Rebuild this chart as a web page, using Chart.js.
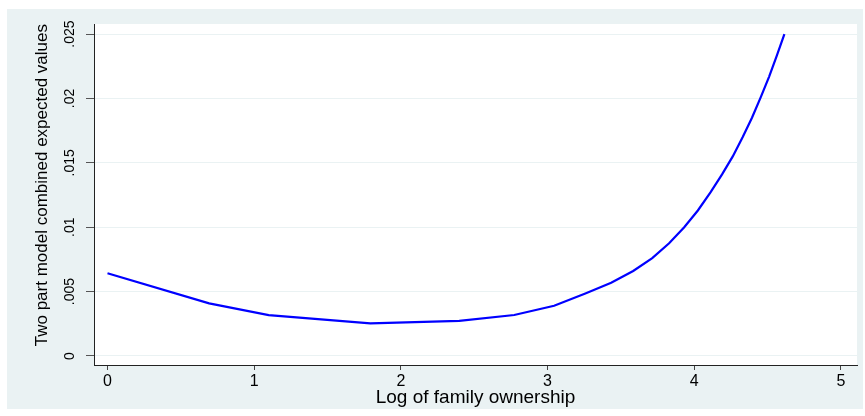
<!DOCTYPE html>
<html>
<head>
<meta charset="utf-8">
<script src="https://cdn.jsdelivr.net/npm/chart.js@4"></script>
<style>
  html, body { margin: 0; padding: 0; background: #ffffff; }
  canvas { display: block; }
</style>
</head>
<body>
<canvas id="chart" width="865" height="416"></canvas>
<script>
// Predicted values of the two-part model over log family ownership
const logOwnership = [0, 0.693, 1.099, 1.792, 2.398, 2.773, 3.045, 3.258, 3.434, 3.584, 3.714, 3.829,
  3.932, 4.025, 4.111, 4.190, 4.263, 4.331, 4.394, 4.454, 4.511, 4.564, 4.615];
const expectedValues = [0.00642, 0.00409, 0.00318, 0.00254, 0.00272, 0.00318, 0.0039, 0.00485, 0.00568,
  0.0066, 0.0076, 0.00875, 0.0100, 0.0113, 0.0127, 0.0141, 0.0155, 0.0170, 0.0185, 0.0201, 0.0217,
  0.02335, 0.0250];

const xTicks = [0, 1, 2, 3, 4, 5];
const xTickLabels = ['0', '1', '2', '3', '4', '5'];
const yTicks = [0, 0.005, 0.01, 0.015, 0.02, 0.025];
const yTickLabels = ['0', '.005', '.01', '.015', '.02', '.025'];

const FONT = "'Liberation Sans', Arial, sans-serif";
const REGION_BG = '#eaf2f3';

// Light graph region behind a white plot area
const backgroundPlugin = {
  id: 'regionBackground',
  beforeDraw(chart) {
    const { ctx, chartArea } = chart;
    ctx.save();
    ctx.fillStyle = '#ffffff';
    ctx.fillRect(0, 0, chart.width, chart.height);
    ctx.fillStyle = REGION_BG;
    ctx.fillRect(7, 9, 856, 400);
    ctx.fillStyle = '#ffffff';
    ctx.fillRect(chartArea.left, chartArea.top, chartArea.right - chartArea.left, chartArea.bottom - chartArea.top);
    ctx.restore();
  }
};

new Chart(document.getElementById('chart').getContext('2d'), {
  type: 'scatter',
  data: {
    datasets: [{
      data: logOwnership.map((x, i) => ({ x: x, y: expectedValues[i] })),
      showLine: true,
      borderColor: '#0000ff',
      borderWidth: 2.2,
      pointRadius: 0,
      tension: 0,
      fill: false
    }]
  },
  options: {
    responsive: false,
    animation: false,
    devicePixelRatio: 1,
    layout: { padding: { left: 25, right: 8, top: 24, bottom: 7 } },
    plugins: { legend: { display: false }, tooltip: { enabled: false } },
    scales: {
      x: {
        type: 'linear',
        min: -0.092,
        max: 5.11,
        afterBuildTicks: (scale) => { scale.ticks = xTicks.map(v => ({ value: v })); },
        afterFit: (scale) => { scale.height = 44; },
        ticks: {
          autoSkip: false,
          maxRotation: 0,
          padding: 2,
          color: '#000000',
          font: { family: FONT, size: 16 },
          callback: (value, index) => xTickLabels[index]
        },
        grid: { drawOnChartArea: false, tickLength: 5, tickColor: '#444444', tickWidth: 1 },
        border: { color: '#222222', width: 1 },
        title: {
          display: true,
          text: 'Log of family ownership',
          color: '#000000',
          font: { family: FONT, size: 19 },
          padding: { top: 0, bottom: 0 }
        }
      },
      y: {
        type: 'linear',
        min: -0.0007,
        max: 0.02578,
        afterBuildTicks: (scale) => { scale.ticks = yTicks.map(v => ({ value: v })); },
        afterFit: (scale) => { scale.width = 69; },
        ticks: {
          autoSkip: false,
          minRotation: 90,
          maxRotation: 90,
          crossAlign: 'center',
          padding: 2,
          color: '#000000',
          font: { family: FONT, size: 14 },
          callback: (value, index) => yTickLabels[index]
        },
        grid: { color: REGION_BG, lineWidth: 1, tickLength: 8, tickColor: '#555555', tickWidth: 1 },
        border: { color: '#222222', width: 1 },
        title: {
          display: true,
          text: 'Two part model combined expected values',
          align: 'end',
          color: '#000000',
          font: { family: FONT, size: 17 },
          padding: { top: 7, bottom: 0 }
        }
      }
    }
  },
  plugins: [backgroundPlugin]
});
</script>
</body>
</html>
